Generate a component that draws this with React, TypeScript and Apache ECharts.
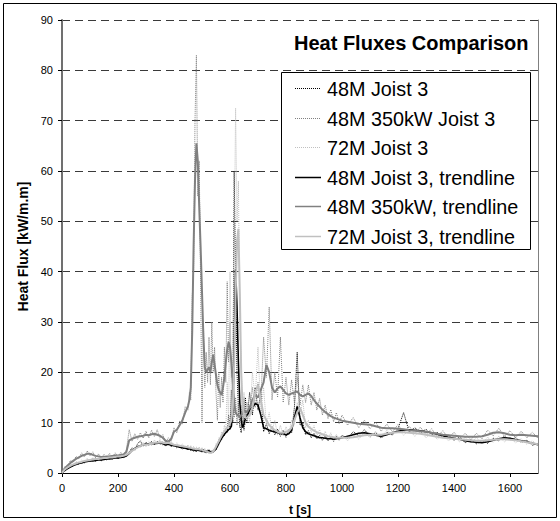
import React, { useEffect, useRef } from "react";
import * as echarts from "echarts";

// time grid [s]
const time = [
  0, 10, 20, 30, 40, 50, 60, 70, 80, 90, 100, 110, 120, 130, 140, 150, 160, 170, 180, 190, 200, 210, 220, 230, 240, 250, 260, 270, 280, 290, 300, 310, 320, 330, 340, 350, 360, 370, 380, 390, 400, 410, 420, 430, 440,
  450, 455, 460, 465, 470, 475, 480, 485, 490, 495, 500, 505, 510, 515, 520, 525, 530, 535, 540, 545, 550, 555, 560, 565, 570, 575, 580, 585, 590, 595, 600, 605, 610, 615, 620, 625, 630, 635, 640, 645, 650, 655, 660,
  670, 680, 690, 700, 710, 720, 730, 740, 750, 760, 770, 780, 790, 800, 810, 820, 830, 840, 850, 860, 870, 880, 890, 900, 910, 920, 930, 940, 950, 960, 970, 980, 990, 1000,
  1020, 1040, 1060, 1080, 1100, 1120, 1140, 1160, 1180, 1200, 1220, 1240, 1260, 1280, 1300, 1320, 1340, 1360, 1380, 1400, 1420, 1440, 1460, 1480, 1500, 1520, 1540, 1560, 1580, 1600, 1620, 1640, 1660, 1680, 1700,
];

// 48M Joist 3 (raw)
const raw48M = [
  0, 0.8, 0.7, 1.5, 1.3, 2.0, 1.7, 2.3, 2.0, 2.6, 2.2, 2.8, 2.3, 2.9, 2.4, 2.9, 2.6, 3.1, 2.7, 3.3, 2.8, 3.4, 3.0, 3.7, 4.2, 5.0, 4.6, 5.8, 6.4, 5.3, 6.1, 5.5, 6.3, 5.6, 6.3, 5.7, 6.2, 5.3, 6.1, 5.2, 5.8, 5.0, 5.5, 4.7, 5.2,
  4.5, 5.1, 4.4, 4.9, 4.3, 4.8, 4.2, 4.9, 4.3, 4.7, 4.1, 4.8, 4.0, 4.5, 4.0, 4.7, 3.9, 4.4, 4.0, 4.9, 4.6, 5.6, 5.7, 6.8, 6.6, 7.8, 7.4, 8.5, 8.0, 11.5, 8.6, 16.5, 10, 60, 38, 20, 13, 9.5, 8.0, 12.5, 8.5, 15, 10,
  16, 11.5, 17, 12.5, 16, 8.2, 9.8, 7.8, 9.2, 7.6, 8.7, 7.3, 8.5, 7.1, 8.6, 7.9, 13, 24, 9.5, 10, 7.6, 8.4, 7.0, 7.9, 6.8, 7.5, 6.5, 7.3, 6.4, 7.2, 6.3, 7.3, 6.6, 7.5,
  6.9, 8.2, 7.4, 8.6, 7.3, 8.0, 6.9, 8.1, 7.6, 8.8, 12, 8.2, 9.0, 8.0, 8.7, 7.6, 8.1, 7.0, 7.5, 6.5, 7.2, 6.0, 6.7, 5.8, 6.4, 5.9, 6.9, 6.4, 7.3, 6.6, 7.0, 6.1, 6.5, 5.5, 5.9,
];

// 48M 350kW Joist 3 (raw)
const raw48M350 = [
  0, 1.3, 1.1, 2.5, 2.1, 3.3, 2.8, 4.0, 3.2, 4.4, 3.4, 4.2, 3.0, 3.8, 2.9, 3.7, 3.0, 3.9, 3.1, 4.0, 3.2, 4.1, 3.4, 4.6, 8.6, 6.3, 7.8, 6.7, 8.0, 6.9, 8.3, 7.0, 8.5, 7.2, 8.6, 6.9, 7.6, 6.0, 7.0, 6.3, 9.0, 8.0, 10.3, 9.8, 13.2,
  12.5, 16, 14.5, 35, 40, 70, 83, 55, 62, 38, 10, 30, 17, 24, 18, 27, 17.5, 30, 20, 25, 16, 10.5, 20, 13, 19, 14, 25, 18, 38, 22, 30, 19, 21, 11, 15, 9.5, 14, 9, 13.5, 10, 15, 11, 14,
  11.5, 17, 13, 18, 14, 27, 19, 33, 14.5, 20, 15, 27, 14, 19, 13.5, 18.5, 14, 19, 13.5, 17.5, 14, 17.5, 13.5, 16, 12.5, 14.8, 11.5, 13.5, 10.8, 12.6, 10.2, 12, 9.8, 11.5,
  9.5, 11, 9.0, 10.5, 8.8, 10.1, 8.3, 9.7, 8.2, 9.6, 8.0, 9.3, 7.8, 9.1, 7.6, 8.8, 7.2, 8.4, 6.9, 8.1, 6.8, 7.9, 6.6, 7.9, 6.8, 8.5, 7.4, 8.9, 7.3, 8.4, 7.0, 8.3, 7.0, 8.1, 6.9,
];

// 72M Joist 3 (raw)
const raw72M = [
  0, 1.0, 0.9, 1.8, 1.5, 2.3, 1.9, 2.6, 2.1, 2.9, 2.3, 3.1, 2.5, 3.2, 2.6, 3.4, 2.7, 3.5, 2.8, 3.6, 2.9, 3.7, 3.0, 4.0, 3.7, 5.0, 4.4, 5.6, 5.0, 6.1, 5.2, 6.2, 5.4, 6.6, 5.6, 6.7, 5.5, 6.4, 5.6, 6.3, 5.2, 6.0, 5.0, 5.8, 4.8,
  5.6, 4.6, 5.5, 4.5, 5.3, 4.4, 5.2, 4.3, 5.2, 4.2, 5.1, 4.1, 4.9, 3.9, 4.7, 3.8, 4.5, 3.8, 4.8, 4.3, 5.8, 5.3, 7.0, 6.5, 8.2, 7.5, 9.5, 8.3, 18, 9.5, 40, 12, 25, 45, 72.5, 50, 58, 30, 22, 10.5, 16, 9.5, 14,
  10, 20, 15, 25, 12, 17, 9.5, 12, 8.2, 10.5, 7.5, 9.5, 7.4, 9.2, 7.8, 10.5, 9.5, 14, 11.5, 14.5, 9.0, 10.5, 8.0, 9.4, 7.4, 8.6, 7.0, 8.3, 6.7, 8.0, 6.5, 7.7, 6.4, 7.6,
  6.4, 7.8, 6.7, 8.2, 7.0, 8.3, 7.0, 8.5, 7.4, 8.8, 7.5, 8.6, 7.3, 8.5, 7.0, 8.1, 6.7, 7.7, 6.4, 7.3, 6.2, 7.1, 6.0, 7.0, 5.9, 7.1, 6.1, 7.3, 6.2, 7.1, 6.0, 6.8, 5.7, 6.4, 5.5,
];

// 48M Joist 3, trendline
const trend48M = [
  0, 0.5, 0.9, 1.2, 1.5, 1.7, 1.9, 2.0, 2.2, 2.3, 2.4, 2.4, 2.5, 2.6, 2.6, 2.7, 2.8, 2.8, 2.9, 3.0, 3.0, 3.1, 3.2, 3.4, 3.9, 4.5, 4.9, 5.2, 5.4, 5.6, 5.7, 5.8, 5.9, 5.8, 5.9, 6.0, 5.8, 5.6, 5.7, 5.5, 5.4, 5.3, 5.1, 5.0, 4.9,
  4.8, 4.8, 4.7, 4.6, 4.6, 4.5, 4.5, 4.6, 4.5, 4.4, 4.4, 4.5, 4.3, 4.2, 4.3, 4.4, 4.2, 4.1, 4.3, 4.5, 4.8, 5.3, 5.9, 6.4, 6.9, 7.3, 7.7, 8.0, 8.3, 8.6, 8.8, 9.3, 12.5, 24, 40.5, 33, 22, 14, 10.5, 9.0, 9.8, 10.8, 11.2,
  12.5, 13.0, 13.8, 13.5, 11.5, 9.0, 8.8, 8.5, 8.3, 8.2, 8.0, 7.9, 7.8, 7.6, 7.8, 8.5, 11.0, 13.2, 11.0, 9.0, 8.2, 7.8, 7.6, 7.4, 7.2, 7.0, 7.0, 6.9, 6.8, 6.8, 6.7, 6.8, 6.9, 7.0,
  7.3, 7.6, 7.9, 8.0, 7.8, 7.5, 7.3, 7.6, 8.0, 8.3, 8.5, 8.6, 8.5, 8.4, 8.2, 8.0, 7.7, 7.4, 7.1, 6.9, 6.7, 6.4, 6.2, 6.1, 6.0, 6.2, 6.5, 6.8, 7.0, 6.9, 6.6, 6.4, 6.2, 5.9, 5.6,
];

// 48M 350kW, trendline
const trend48M350 = [
  0, 0.9, 1.5, 2.0, 2.4, 2.8, 3.1, 3.4, 3.6, 3.8, 3.8, 3.6, 3.4, 3.3, 3.2, 3.2, 3.3, 3.3, 3.4, 3.5, 3.5, 3.6, 3.7, 4.2, 6.5, 6.8, 7.0, 7.2, 7.3, 7.4, 7.6, 7.5, 7.7, 7.8, 7.6, 7.4, 7.0, 6.4, 6.2, 6.8, 8.2, 8.6, 9.5, 10.5, 12.0,
  13.3, 14.5, 17, 28, 45, 58, 65.5, 62, 53, 45, 36, 27, 21, 20, 20.5, 21, 20, 22, 23.5, 21.5, 19.5, 17.5, 16.5, 16, 15.5, 17, 19, 22, 24.5, 26, 25, 22, 18, 14, 12, 11.5, 11.5, 11.0, 11.5, 12, 12.5, 12.2, 12,
  13, 14.5, 15.5, 15, 16.5, 18, 21.5, 20, 17, 16, 16.8, 17.2, 16.5, 15.8, 15.5, 15.8, 16, 16.2, 15.5, 15.2, 15.5, 15.8, 15.3, 14.5, 13.8, 13.2, 12.6, 12.1, 11.7, 11.3, 11.0, 10.8, 10.6, 10.4,
  10.2, 10.0, 9.8, 9.7, 9.6, 9.3, 9.0, 8.9, 8.9, 8.8, 8.7, 8.5, 8.4, 8.3, 8.2, 8.0, 7.8, 7.6, 7.5, 7.4, 7.3, 7.2, 7.2, 7.2, 7.3, 7.6, 8.0, 8.1, 7.9, 7.6, 7.5, 7.6, 7.5, 7.4, 7.3,
];

// 72M Joist 3, trendline
const trend72M = [
  0, 0.7, 1.1, 1.4, 1.7, 1.9, 2.1, 2.2, 2.4, 2.5, 2.6, 2.7, 2.8, 2.8, 2.9, 3.0, 3.0, 3.1, 3.1, 3.2, 3.3, 3.3, 3.4, 3.6, 4.0, 4.4, 4.8, 5.1, 5.4, 5.6, 5.6, 5.7, 5.9, 6.0, 6.0, 6.1, 6.0, 5.9, 6.0, 5.8, 5.6, 5.5, 5.4, 5.3, 5.2,
  5.1, 5.0, 5.0, 4.9, 4.8, 4.8, 4.7, 4.8, 4.7, 4.6, 4.6, 4.5, 4.4, 4.3, 4.2, 4.1, 4.0, 4.1, 4.3, 4.7, 5.2, 5.8, 6.3, 6.9, 7.4, 7.9, 8.3, 8.7, 9.0, 9.4, 9.8, 10.5, 13, 22, 35, 46, 48.5, 36, 20, 13, 11.5, 11.0, 11.0,
  11.5, 13.0, 16.0, 17.5, 14.5, 11.5, 10.5, 9.5, 9.0, 8.5, 8.2, 8.0, 8.0, 8.2, 8.4, 9.0, 10.5, 12.0, 13.0, 11.5, 10.0, 9.2, 8.8, 8.4, 8.1, 7.9, 7.7, 7.5, 7.3, 7.2, 7.1, 7.0, 7.0, 7.0,
  7.0, 7.1, 7.3, 7.5, 7.6, 7.6, 7.6, 7.8, 8.0, 8.1, 8.1, 8.0, 7.9, 7.8, 7.6, 7.4, 7.2, 7.0, 6.9, 6.8, 6.7, 6.6, 6.5, 6.4, 6.4, 6.5, 6.6, 6.7, 6.7, 6.6, 6.5, 6.3, 6.1, 5.9, 5.7,
];

const seriesNames = [
  "48M Joist 3",
  "48M 350kW Joist 3",
  "72M Joist 3",
  "48M Joist 3, trendline",
  "48M 350kW, trendline",
  "72M Joist 3, trendline",
];

const yTicksMax = 90;
const xTicksMax = 1700;

const FONT = "'Liberation Sans', Arial, Helvetica, sans-serif";
const BLACK = "#000000";
const GRAY = "#808080";
const LIGHT = "#c0c0c0";

const seriesColors = [BLACK, GRAY, LIGHT, BLACK, GRAY, LIGHT];
const seriesWidths = [1, 1, 1, 1.6, 2, 2];
const seriesDotted = [true, true, true, false, false, false];
const seriesValues = [raw48M, raw48M350, raw72M, trend48M, trend48M350, trend72M];

export default function App() {
  const ref = useRef<HTMLDivElement>(null);

  useEffect(() => {
    const el = ref.current;
    if (!el) return;
    const chart = echarts.init(el, undefined, { renderer: "svg" });

    const pairs = (vals: number[]) => {
      const n = Math.min(time.length, vals.length);
      const out: number[][] = [];
      for (let i = 0; i < n; i++) out.push([time[i], vals[i]]);
      return out;
    };

    const series = seriesNames.map((name, i) => ({
      name,
      type: "line",
      data: pairs(seriesValues[i]),
      symbol: "none",
      showSymbol: false,
      silent: true,
      color: seriesColors[i],
      lineStyle: {
        color: seriesColors[i],
        width: seriesWidths[i],
        type: seriesDotted[i] ? [1, 1] : "solid",
      },
      emphasis: { disabled: true },
      z: 2,
    }));

    // legend drawn as graphic (box, sample lines, texts)
    const legendX = 281.5;
    const legendY = 72.5;
    const rowY0 = 88;
    const rowStep = 29.6;
    const legendGraphics: any[] = [
      {
        type: "rect",
        z: 10,
        silent: true,
        shape: { x: legendX, y: legendY, width: 249, height: 177 },
        style: { fill: "#ffffff", stroke: BLACK, lineWidth: 1 },
      },
    ];
    seriesNames.forEach((name, i) => {
      const y = Math.round(rowY0 + i * rowStep) + 0.5;
      legendGraphics.push({
        type: "line",
        z: 11,
        silent: true,
        shape: { x1: 295, y1: y, x2: 321, y2: y },
        style: {
          stroke: seriesColors[i],
          lineWidth: seriesDotted[i] ? 1 : Math.min(seriesWidths[i], 1.5),
          lineDash: seriesDotted[i] ? [1, 1] : null,
        },
      });
      legendGraphics.push({
        type: "text",
        z: 11,
        silent: true,
        x: 327,
        y: y,
        style: {
          text: name,
          fill: BLACK,
          font: `19.8px ${FONT}`,
          textVerticalAlign: "middle",
          verticalAlign: "middle",
          textAlign: "left",
        },
      });
    });

    chart.setOption({
      animation: false,
      backgroundColor: "#ffffff",
      textStyle: { fontFamily: FONT },
      title: {
        text: "Heat Fluxes Comparison",
        left: 294,
        top: 33,
        padding: 0,
        textStyle: { fontSize: 20, fontWeight: "bold", color: BLACK, fontFamily: FONT },
      },
      grid: { left: 62, right: 22, top: 20, bottom: 47 },
      xAxis: {
        type: "value",
        min: 0,
        max: xTicksMax,
        interval: 200,
        name: "t [s]",
        nameLocation: "middle",
        nameGap: 31,
        nameTextStyle: { fontWeight: "bold", fontSize: 12, color: BLACK, fontFamily: FONT },
        axisLine: { show: true, onZero: false, lineStyle: { color: BLACK, width: 1 } },
        axisTick: { show: true, length: 4, lineStyle: { color: BLACK } },
        axisLabel: {
          fontSize: 11,
          color: BLACK,
          margin: 9,
          showMaxLabel: false,
          fontFamily: FONT,
          formatter: (v: number) => String(v),
        },
        splitLine: { show: false },
      },
      yAxis: [
        {
          type: "value",
          min: 0,
          max: yTicksMax,
          interval: 10,
          name: "Heat Flux [kW/m.m]",
          nameLocation: "middle",
          nameRotate: 90,
          nameGap: 21,
          nameTextStyle: { fontWeight: "bold", fontSize: 14, color: BLACK, fontFamily: FONT },
          axisLine: { show: true, onZero: false, lineStyle: { color: "#707070", width: 2 } },
          axisTick: { show: true, length: 4, lineStyle: { color: BLACK } },
          axisLabel: { fontSize: 11, color: BLACK, margin: 9, fontFamily: FONT },
          splitLine: { show: true, lineStyle: { color: "#3a3a3a", width: 1, type: [8, 5] } },
        },
        {
          type: "value",
          position: "right",
          min: 0,
          max: yTicksMax,
          interval: 10,
          axisLine: { show: true, onZero: false, lineStyle: { color: GRAY, width: 1 } },
          axisTick: { show: false },
          axisLabel: { show: false },
          splitLine: { show: false },
        },
      ],
      graphic: [
        {
          type: "rect",
          z: 0,
          silent: true,
          shape: { x: 3.5, y: 3.5, width: 553, height: 514 },
          style: { fill: "none", stroke: BLACK, lineWidth: 1 },
        },
        ...legendGraphics,
      ],
      series,
    });

    return () => {
      chart.dispose();
    };
  }, []);

  return (
    <div
      ref={ref}
      style={{ position: "fixed", left: 0, top: 0, width: 560, height: 521, background: "#fff" }}
    />
  );
}
